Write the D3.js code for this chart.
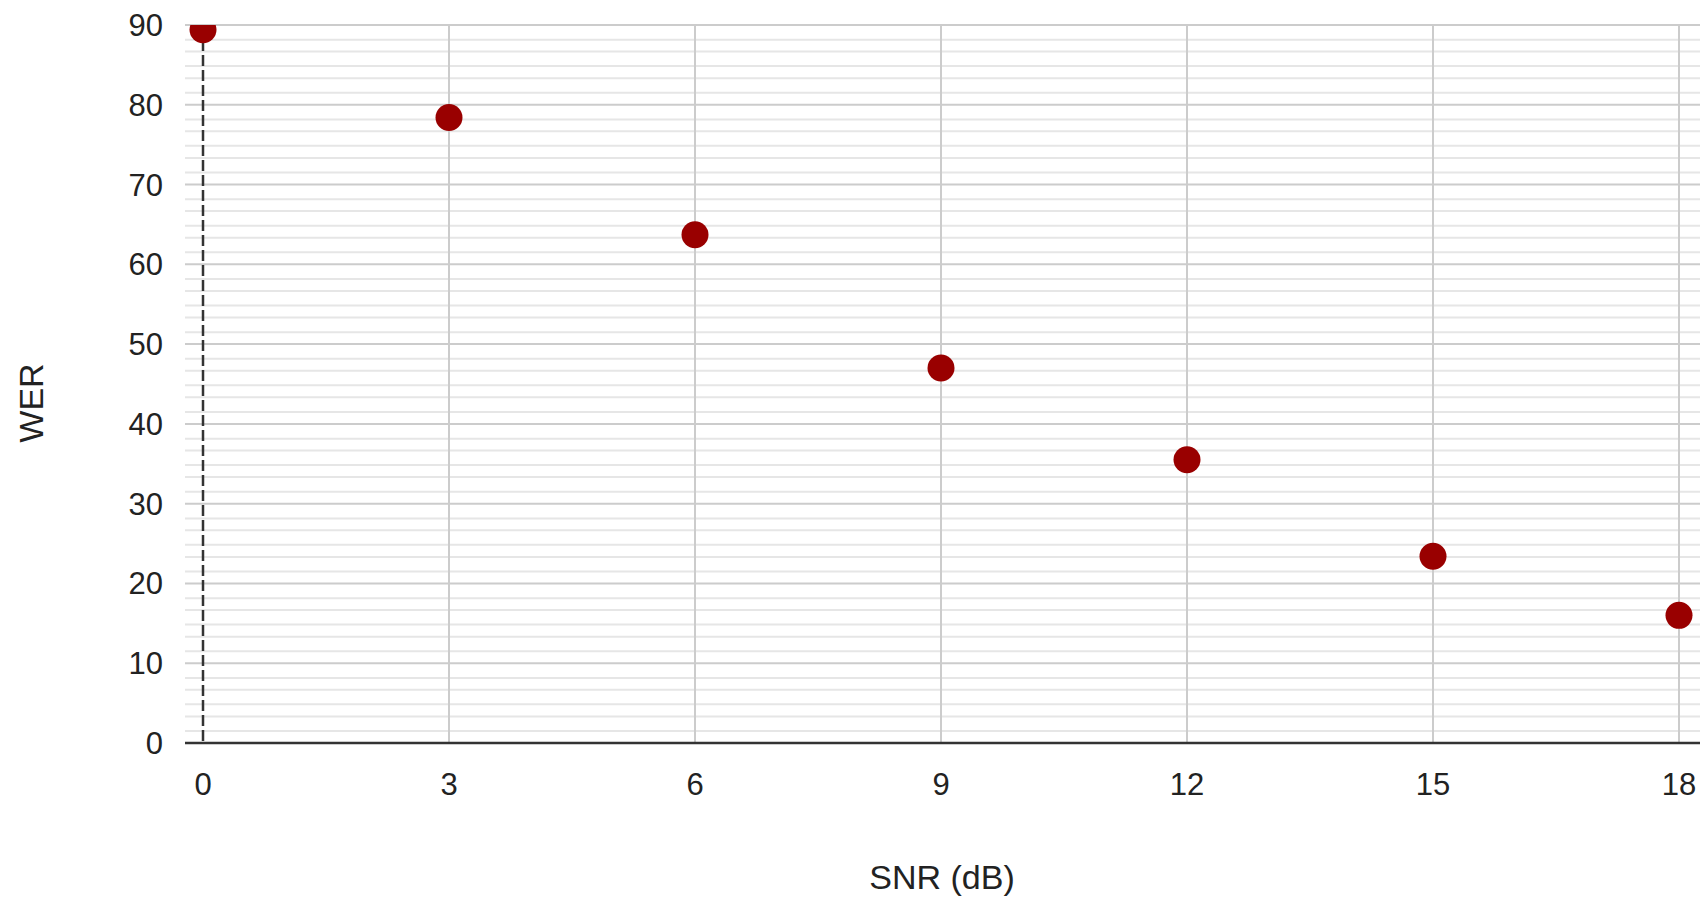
<!DOCTYPE html>
<html>
<head>
<meta charset="utf-8">
<script src="https://cdn.jsdelivr.net/npm/d3@7"></script>
<style>
  html, body { margin: 0; padding: 0; background: #fff; }
  text { font-family: "Liberation Sans", Arial, sans-serif; fill: #222; }
</style>
</head>
<body>
<div id="chart"></div>
<script>
// data
const snr = [0, 3, 6, 9, 12, 15, 18];
const wer = [89.4, 78.4, 63.7, 47.0, 35.5, 23.4, 16.0];
const xTicks = [0, 3, 6, 9, 12, 15, 18];
const yTicks = [0, 10, 20, 30, 40, 50, 60, 70, 80, 90];
const minorSteps = [1.5, 3.33, 4.85, 6.67, 8.15];

const width = 1704, height = 899;
const area = { left: 185, right: 1700, top: 25, bottom: 743 };

const x = d3.scaleLinear().domain([0, 18]).range([203, 1679]);
const y = d3.scaleLinear().domain([0, 90]).range([area.bottom, area.top]);

const svg = d3.select("#chart").append("svg")
    .attr("width", width)
    .attr("height", height);

svg.append("defs").append("clipPath")
    .attr("id", "clip")
    .append("rect")
    .attr("x", area.left)
    .attr("y", area.top)
    .attr("width", area.right - area.left)
    .attr("height", area.bottom - area.top);

// minor horizontal gridlines
const minor = [];
yTicks.slice(0, -1).forEach(t => minorSteps.forEach(s => minor.push(t + s)));

svg.append("g").selectAll("line")
    .data(minor)
    .join("line")
    .attr("x1", area.left).attr("x2", area.right)
    .attr("y1", d => y(d)).attr("y2", d => y(d))
    .attr("stroke", "#e6e6e6")
    .attr("stroke-width", 2);

// major horizontal gridlines
svg.append("g").selectAll("line")
    .data(yTicks.slice(1))
    .join("line")
    .attr("x1", area.left).attr("x2", area.right)
    .attr("y1", d => y(d)).attr("y2", d => y(d))
    .attr("stroke", "#cccccc")
    .attr("stroke-width", 2);

// vertical gridlines
svg.append("g").selectAll("line")
    .data(xTicks.slice(1))
    .join("line")
    .attr("x1", d => x(d)).attr("x2", d => x(d))
    .attr("y1", area.top).attr("y2", area.bottom)
    .attr("stroke", "#cccccc")
    .attr("stroke-width", 2);

// dashed baseline at x = 0
svg.append("line")
    .attr("x1", x(0)).attr("x2", x(0))
    .attr("y1", area.top).attr("y2", area.bottom)
    .attr("stroke", "#333")
    .attr("stroke-width", 2.5)
    .attr("stroke-dasharray", "11,4");

// x baseline
svg.append("line")
    .attr("x1", area.left).attr("x2", area.right)
    .attr("y1", y(0)).attr("y2", y(0))
    .attr("stroke", "#333")
    .attr("stroke-width", 2.5);

// points
svg.append("g")
    .attr("clip-path", "url(#clip)")
    .selectAll("circle")
    .data(snr.map((s, i) => ({ s: s, w: wer[i] })))
    .join("circle")
    .attr("cx", d => x(d.s))
    .attr("cy", d => y(d.w))
    .attr("r", 13.5)
    .attr("fill", "#990000");

// tick labels
svg.append("g").selectAll("text")
    .data(yTicks)
    .join("text")
    .attr("x", 163)
    .attr("y", d => y(d) + 11)
    .attr("text-anchor", "end")
    .style("font-size", "31px")
    .text(d => d);

svg.append("g").selectAll("text")
    .data(xTicks)
    .join("text")
    .attr("x", d => x(d))
    .attr("y", 795)
    .attr("text-anchor", "middle")
    .style("font-size", "31px")
    .text(d => d);

// axis titles
svg.append("text")
    .attr("x", 942)
    .attr("y", 889)
    .attr("text-anchor", "middle")
    .style("font-size", "34px")
    .text("SNR (dB)");

svg.append("text")
    .attr("transform", "translate(43,403) rotate(-90)")
    .attr("text-anchor", "middle")
    .style("font-size", "34px")
    .text("WER");
</script>
</body>
</html>
